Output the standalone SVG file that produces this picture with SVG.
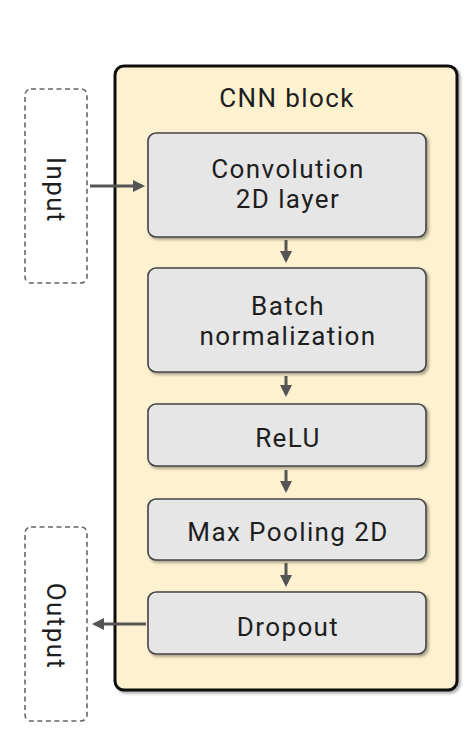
<svg xmlns="http://www.w3.org/2000/svg" width="468" height="743" viewBox="0 0 468 743">
<style>
.lbl{font-family:Roboto,"Liberation Sans",sans-serif;font-size:26px;letter-spacing:1.4px;fill:#1e1e1e;text-anchor:middle}
.box{fill:#e6e6e6;stroke:#444;stroke-width:1.6}
.io{fill:#fff;stroke:#666;stroke-width:1.6;stroke-dasharray:5 3.5}
.con{stroke:#555;stroke-width:3;fill:none;marker-end:url(#ah)}
</style>
<defs>
<marker id="ah" markerWidth="4" markerHeight="4" refX="3" refY="2" orient="auto" markerUnits="strokeWidth">
<path d="M0,0 L4,2 L0,4 Z" fill="#555"/>
</marker>
<filter id="sh" x="-10%" y="-10%" width="130%" height="130%">
<feDropShadow dx="2" dy="2" stdDeviation="1.5" flood-color="#000" flood-opacity="0.35"/>
</filter>
</defs>
<rect width="468" height="743" fill="#fff"/>
<g id="cnn_block">
<rect x="115" y="66" width="342" height="624" rx="9" fill="#fef1cf" stroke="#111" stroke-width="3" filter="url(#sh)"/>
<text class="lbl" x="287" y="107">CNN block</text>
</g>
<g id="input">
<rect class="io" x="25" y="89" width="62" height="194" rx="6"/>
<text class="lbl" transform="translate(56,190) rotate(90)" y="9">Input</text>
</g>
<g id="output">
<rect class="io" x="25" y="527" width="62" height="194" rx="6"/>
<text class="lbl" transform="translate(56,626) rotate(90)" y="9">Output</text>
</g>
<g id="conv">
<rect class="box" x="148" y="133" width="278" height="104" rx="8" filter="url(#sh)"/>
<text class="lbl" x="288" y="178">Convolution</text>
<text class="lbl" x="288" y="208">2D layer</text>
</g>
<g id="batch">
<rect class="box" x="148" y="268" width="278" height="104" rx="8" filter="url(#sh)"/>
<text class="lbl" x="288" y="315">Batch</text>
<text class="lbl" x="288" y="345">normalization</text>
</g>
<g id="relu">
<rect class="box" x="148" y="404" width="278" height="62" rx="8" filter="url(#sh)"/>
<text class="lbl" x="288" y="447">ReLU</text>
</g>
<g id="maxpool">
<rect class="box" x="148" y="499" width="278" height="61" rx="8" filter="url(#sh)"/>
<text class="lbl" x="288" y="541">Max Pooling 2D</text>
</g>
<g id="dropout">
<rect class="box" x="148" y="592" width="278" height="62" rx="8" filter="url(#sh)"/>
<text class="lbl" x="288" y="636">Dropout</text>
</g>
<g id="connectors">
<line class="con" x1="90" y1="186" x2="142" y2="186"/>
<line class="con" x1="286" y1="240" x2="286" y2="260"/>
<line class="con" x1="286" y1="376" x2="286" y2="394"/>
<line class="con" x1="286" y1="470" x2="286" y2="490"/>
<line class="con" x1="286" y1="563" x2="286" y2="584"/>
<line class="con" x1="146" y1="624" x2="95" y2="624"/>
</g>
</svg>
